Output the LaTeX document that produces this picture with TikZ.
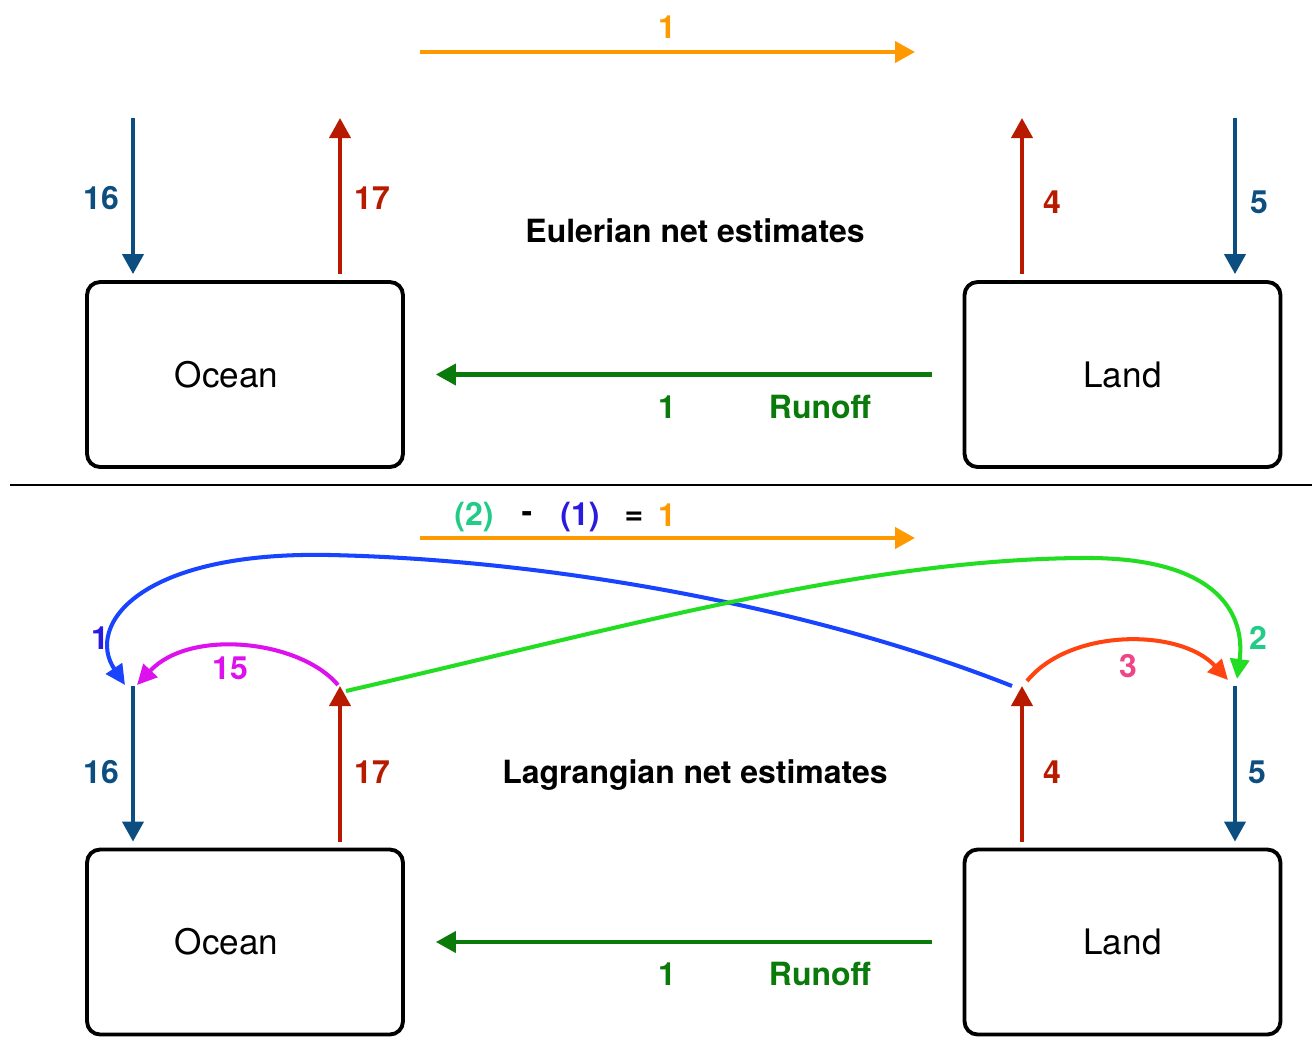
\documentclass[tikz,border=0pt]{standalone}
\usepackage{fontspec}
\setmainfont{TeX Gyre Heros}
\usetikzlibrary{arrows.meta}

\definecolor{dkblue}{HTML}{0C4E80}
\definecolor{dkred}{HTML}{B81A00}
\definecolor{orng}{HTML}{FF9900}
\definecolor{dkgreen}{HTML}{0A7A0A}
\definecolor{brblue}{HTML}{1944FF}
\definecolor{brgreen}{HTML}{22DD22}
\definecolor{magnt}{HTML}{DD11EE}
\definecolor{redorng}{HTML}{FF4411}
\definecolor{pinkred}{HTML}{EE4488}
\definecolor{tealgrn}{HTML}{22CC88}
\definecolor{violet}{HTML}{2A1AE0}

\tikzset{
  box/.style={draw, line width=2.2pt, rounded corners=0.26cm,
    minimum width=6.32cm, minimum height=3.7cm, inner sep=0pt},
  boxtext/.style={font=\fontsize{20}{24}\selectfont},
  flow/.style={line width=2.3pt, -{Triangle[length=0.4cm,width=0.42cm]}},
  swirl/.style={line width=2.3pt, -{Triangle[length=0.4cm,width=0.38cm]}},
  num/.style={font=\bfseries\fontsize{18.2}{20}\selectfont, inner sep=0pt},
}

\begin{document}
\begin{tikzpicture}[x=0.02cm,y=-0.02cm]
        \useasboundingbox (0,0) rectangle (1312,1036);

        % Eulerian
        \node[box, label={[boxtext, xshift=-0.37cm]center:Ocean}] (oceanA) at (245,374.5) {};
        \node[box, label={[boxtext]center:Land}] (landA) at (1122.5,374.5) {};
        \coordinate (orA1) at (420,52);
        \coordinate (orA2) at (915,52);
        \coordinate (oinA) at (133,118);
        \coordinate (ooutA) at (340,118);
        \coordinate (loutA) at (1022,118);
        \coordinate (linA) at (1235,118);
        \draw[flow, orng] (orA1) -- (orA2);
        \draw[flow, dkblue, shorten >=0.12cm] (oinA) -- (oinA |- oceanA.north);
        \draw[flow, dkred, shorten <=0.12cm] (ooutA |- oceanA.north) -- (ooutA);
        \draw[flow, dkred, shorten <=0.12cm] (loutA |- landA.north) -- (loutA);
        \draw[flow, dkblue, shorten >=0.12cm] (linA) -- (linA |- landA.north);
        \draw[flow, dkgreen, shorten <=0.62cm, shorten >=0.62cm] (landA.west) -- (oceanA.east);
        \node[num, orng] (nA1) at (667,27) {1};
        \node[num, dkblue] (nA16) at (101,198) {16};
        \node[num, dkred] (nA17) at (372,198) {17};
        \node[num, dkred] (nA4) at (1052,202) {4};
        \node[num, dkblue] (nA5) at (1259,202) {5};
        \node[num] (titleA) at (695,231) {Eulerian net estimates};
        \node[num, dkgreen] (rA1) at (667,407) {1};
        \node[num, dkgreen] (rAtxt) at (820,407) {Runoff};

        \draw[line width=1.1pt] (10,485) -- (1312,485);

        % Lagrangian
        \node[box, label={[boxtext, xshift=-0.37cm]center:Ocean}] (oceanB) at (245,942) {};
        \node[box, label={[boxtext]center:Land}] (landB) at (1122.5,942) {};
        \coordinate (orB1) at (420,538);
        \coordinate (orB2) at (915,538);
        \coordinate (oinB) at (133,686);
        \coordinate (ooutB) at (340,686);
        \coordinate (loutB) at (1022,686);
        \coordinate (linB) at (1235,686);
        \draw[flow, orng] (orB1) -- (orB2);
        \draw[flow, dkblue, shorten >=0.12cm] (oinB) -- (oinB |- oceanB.north);
        \draw[flow, dkred, shorten <=0.12cm] (ooutB |- oceanB.north) -- (ooutB);
        \draw[flow, dkred, shorten <=0.12cm] (loutB |- landB.north) -- (loutB);
        \draw[flow, dkblue, shorten >=0.12cm] (linB) -- (linB |- landB.north);
        \draw[flow, dkgreen, shorten <=0.62cm, shorten >=0.62cm] (landB.west) -- (oceanB.east);

        % exchange paths
        \coordinate (bluS) at (1012,686);
        \coordinate (bluE) at (125,685);
        \coordinate (grnS) at (346,691);
        \coordinate (grnE) at (1237,679);
        \coordinate (magS) at (338,685);
        \coordinate (magE) at (137,685);
        \coordinate (redS) at (1027,681);
        \coordinate (redE) at (1228,680);
        \draw[swirl, brblue] (bluS) .. controls (820,610) and (560,560) .. (330,555)
            .. controls (140,551) and (85,625) .. (bluE);
        \draw[swirl, brgreen] (grnS) .. controls (620,628) and (860,560) .. (1080,558)
            .. controls (1225,556) and (1245,620) .. (grnE);
        \draw[swirl, magnt] (magS) .. controls (300,640) and (190,628) .. (magE);
        \draw[swirl, redorng] (redS) .. controls (1070,628) and (1180,628) .. (redE);

        \node[num, tealgrn] (pB2) at (474,517) {(2)};
        \node[num] (mB) at (527,517) {-};
        \node[num, violet] (pB1) at (580,517) {(1)};
        \node[num] (eqB) at (634,518) {=};
        \node[num, orng] (nB1) at (667,515) {1};
        \node[num, violet] (cB1) at (100,638) {1};
        \node[num, tealgrn] (cB2) at (1258,638) {2};
        \node[num, magnt] (cB15) at (230,668) {15};
        \node[num, pinkred] (cB3) at (1128,666) {3};
        \node[num, dkblue] (nB16) at (101,772) {16};
        \node[num, dkred] (nB17) at (372,772) {17};
        \node[num, dkred] (nB4) at (1052,772) {4};
        \node[num, dkblue] (nB5) at (1257,772) {5};
        \node[num] (titleB) at (695,775) {Lagrangian net estimates};
        \node[num, dkgreen] (rB1) at (667,974) {1};
        \node[num, dkgreen] (rBtxt) at (820,974) {Runoff};
    \end{tikzpicture}
\end{document}
